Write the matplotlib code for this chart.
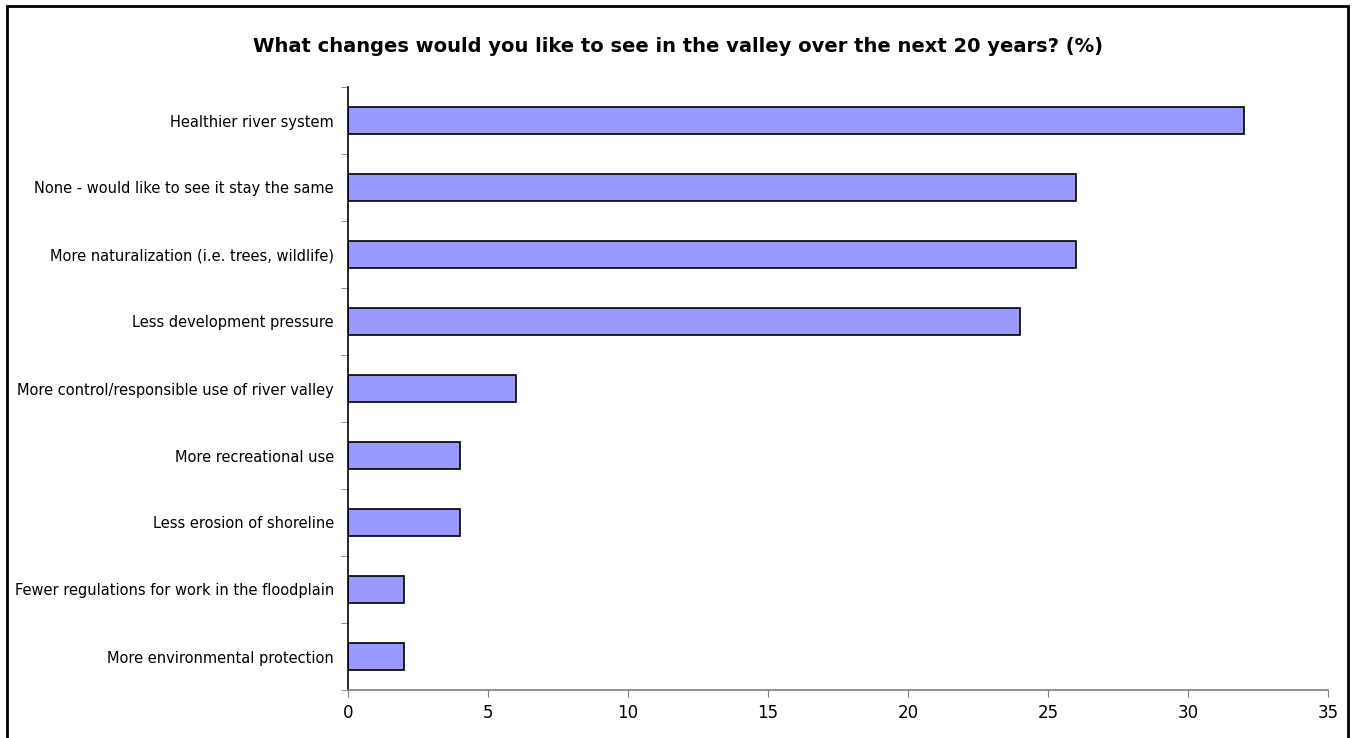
import matplotlib
matplotlib.use("Agg")
import matplotlib.pyplot as plt
from matplotlib.patches import Rectangle

# data, top to bottom
categories = [
    "Healthier river system",
    "None - would like to see it stay the same",
    "More naturalization (i.e. trees, wildlife)",
    "Less development pressure",
    "More control/responsible use of river valley",
    "More recreational use",
    "Less erosion of shoreline",
    "Fewer regulations for work in the floodplain",
    "More environmental protection",
]
values = [32, 26, 26, 24, 6, 4, 4, 2, 2]
xticks = [0, 5, 10, 15, 20, 25, 30, 35]

plt.rcParams['font.family'] = ['DejaVu Sans']

fig = plt.figure(figsize=(13.52, 7.38), dpi=100)
W, H = 1352, 738
ax = fig.add_axes([348 / W, 1 - 690 / H, 980 / W, (690 - 87) / H])

n = len(categories)
ypos = list(range(n))
ax.barh(ypos, values, height=0.4, color="#9999FF", edgecolor="black", linewidth=1.2)
ax.set_ylim(n - 0.5, -0.5)
ax.set_xlim(0, 35)

ax.set_yticks(ypos)
ax.set_yticklabels(categories, fontsize=10.5)
ax.tick_params(axis='y', which='major', length=0, pad=10)
ax.set_yticks([i - 0.5 for i in range(n + 1)], minor=True)
ax.tick_params(axis='y', which='minor', length=5, color="#808080", direction='out')

ax.set_xticks(xticks)
ax.set_xticklabels([str(t) for t in xticks], fontsize=12)
ax.tick_params(axis='x', length=5, color="#808080", direction='out', pad=5)

for s in ['top', 'right']:
    ax.spines[s].set_visible(False)
ax.spines['left'].set_color('black')
ax.spines['left'].set_linewidth(1.2)
ax.spines['bottom'].set_color('#808080')
ax.spines['bottom'].set_linewidth(1.2)

fig.text(678 / W, 1 - 47 / H, "What changes would you like to see in the valley over the next 20 years? (%)",
         ha='center', va='center', fontsize=14, fontweight='bold')

fig.patches.append(Rectangle((7 / W, -0.01), (1348 - 7) / W, (1 - 6 / H) + 0.01,
                             transform=fig.transFigure, fill=False, edgecolor='black', linewidth=2))

fig.savefig("out.png", dpi=100)
